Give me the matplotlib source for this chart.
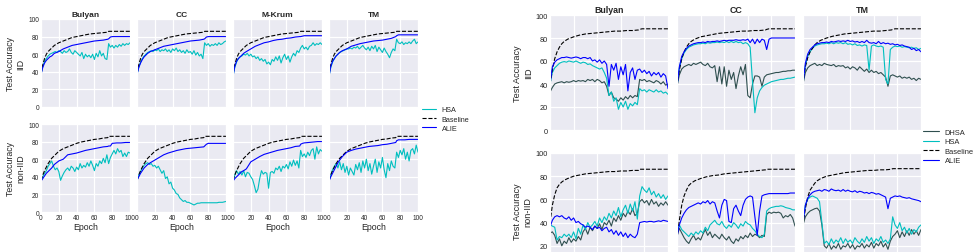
import matplotlib.pyplot as plt
import seaborn as sns

sns.set_style("darkgrid")
plt.rcParams["font.family"] = ["Liberation Sans", "DejaVu Sans"]

# epochs: fine grid for noisy curves, coarse grid for smooth ones
EP = list(range(0, 101, 2))
EPC = [0, 2, 4, 6, 8, 10, 12, 15, 20, 25, 30, 35, 40, 45, 50, 55, 60, 65, 70, 75, 76, 78, 80, 85, 90, 95, 100]

# ---------------- left figure: HSA vs ALIE ----------------
left_titles = ["Bulyan", "CC", "M-Krum", "TM"]

lb_iid = [38, 48, 55, 60, 63, 65, 67, 70, 73, 75, 77, 79, 80, 81, 82, 83, 83.5, 84, 84.5, 85, 86, 86, 86, 86, 86, 86, 86]
lb_non = [36, 42, 47, 51, 55, 58, 61, 64, 69, 72, 74, 76, 78, 79.5, 80.5, 81.5, 82.5, 83, 84, 84.5, 86, 86, 86, 86, 86, 86, 86]

la_bulyan_iid = [37, 45, 50, 53, 55, 57, 58, 61, 63, 66, 68, 70, 71, 72, 73, 74, 75, 75.5, 76, 77, 77.5, 79.5, 80, 80, 80, 80, 80]
la_cc_iid = [37, 45, 50, 54, 57, 59, 61, 63, 65, 67, 69, 70, 71, 72, 73, 74, 75, 75.5, 76, 77, 77.5, 79.5, 80, 80, 80, 80, 80]
la_mkrum_iid = [35, 46, 52, 55, 57, 59, 61, 63, 66, 69, 71, 73, 74, 75.5, 76.5, 77, 78, 78.5, 79.5, 80, 80, 80.5, 81, 81, 81, 81, 81]
la_tm_iid = [35, 46, 52, 55, 58, 60, 62, 64, 66, 69, 70.5, 72, 73, 74, 75, 75.5, 76, 77, 78, 80, 81, 82, 82, 82, 82, 82, 82]
la_bulyan_non = [35, 38, 41, 44, 46, 48, 50, 54, 58, 60, 65, 66, 67, 68.5, 70, 71, 72, 73, 74, 74.5, 75, 75, 78, 78.5, 78.5, 79, 79]
la_cc_non = [36, 40, 44, 47, 50, 52, 54, 56, 59, 62, 65, 67, 68.5, 70, 71, 72, 72.5, 73, 73.5, 74, 75, 77, 78, 78, 78, 78, 78]
la_mkrum_non = [35, 38, 40, 42, 44, 46, 47, 49, 57, 60, 63, 65.5, 67, 68.5, 70, 71, 72, 73, 74.5, 75, 77, 78, 78.5, 79, 79.5, 80, 80]
la_tm_non = [35, 40, 44, 48, 52, 56, 59, 63, 68, 70, 71.5, 72.5, 73.5, 74.5, 75, 75.5, 76.5, 77, 78, 79, 81, 82, 82, 82, 82.5, 82.5, 82.5]

lh_bulyan_iid = [37, 46, 52, 55, 58, 60, 61, 62, 63, 62,
                 64, 63, 61, 64, 62, 63, 66, 62, 60, 64,
                 62, 60, 58, 62, 55, 60, 57, 59, 56, 60,
                 54, 61, 57, 64, 58, 61, 55, 54, 72, 68,
                 70, 67, 70, 68, 71, 69, 72, 70, 72, 71,
                 73]
lh_cc_iid = [37, 45, 51, 55, 58, 60, 62, 63, 64, 63,
             65, 64, 66, 63, 65, 64, 66, 63, 65, 62,
             66, 64, 67, 63, 65, 62, 64, 61, 65, 62,
             63, 60, 64, 59, 62, 58, 60, 55, 73, 70,
             72, 69, 71, 70, 72, 70, 73, 71, 72, 74,
             75]
lh_mkrum_iid = [35, 45, 51, 55, 57, 58, 60, 59, 61, 58,
                60, 57, 58, 55, 57, 53, 55, 52, 54, 49,
                51, 48, 54, 52, 57, 53, 58, 50, 56, 60,
                54, 58, 51, 57, 61, 58, 64, 62, 67, 70,
                66, 68, 65, 69, 70, 73, 70, 72, 71, 73,
                71]
lh_tm_iid = [35, 45, 51, 55, 58, 60, 62, 63, 64, 65,
             66, 66, 67, 66, 68, 67, 69, 66, 68, 70,
             67, 65, 68, 64, 69, 66, 70, 63, 68, 65,
             62, 67, 63, 60, 56, 62, 66, 64, 77, 73,
             72, 74, 71, 73, 72, 74, 72, 75, 77, 72,
             74]
lh_bulyan_non = [35, 40, 44, 47, 52, 55, 58, 52, 48, 50,
                 46, 36, 41, 45, 48, 50, 47, 52, 50, 46,
                 51, 48, 55, 50, 53, 51, 56, 52, 58, 53,
                 47, 55, 52, 58, 55, 61, 56, 65, 55, 62,
                 66, 70, 66, 72, 68, 70, 63, 67, 63, 68,
                 67]
lh_cc_non = [36, 42, 46, 50, 53, 55, 56, 54, 55, 52,
             53, 50, 52, 48, 44, 47, 38, 40, 32, 34,
             27, 25, 21, 20, 16, 14, 12, 13, 11, 11,
             10, 9, 8, 9, 10, 10, 10.5, 10.5, 10.5, 10.5,
             10.5, 10.5, 10.5, 10.5, 10.5, 10.5, 11, 11, 11, 11.5,
             12]
lh_mkrum_non = [35, 42, 47, 43, 46, 42, 47, 40, 45, 44,
                40, 37, 30, 22, 26, 38, 47, 43, 45, 44,
                27, 45, 46, 44, 50, 48, 52, 46, 52, 50,
                54, 49, 57, 52, 59, 53, 58, 50, 70, 63,
                66, 62, 68, 64, 70, 72, 60, 74, 66, 71,
                69]
lh_tm_non = [35, 42, 48, 52, 55, 50, 57, 48, 55, 45,
             52, 42, 50, 46, 42, 54, 48, 56, 45, 58,
             50, 60, 47, 55, 43, 52, 60, 45, 57, 50,
             62, 48, 39, 55, 47, 58, 52, 50, 68, 62,
             70, 65, 72, 60, 68, 58, 70, 72, 66, 76,
             68]

# ---------------- right figure: DHSA / HSA vs ALIE ----------------
right_titles = ["Bulyan", "CC", "TM"]

rb_bulyan_iid = [40, 52, 62, 68, 72, 75, 77, 79, 81, 82.5, 83.5, 84, 84.5, 85, 85.5, 86, 86, 86.5, 86.5, 87, 87.5, 88, 88, 88, 88, 88, 88]
rb_cc_iid = [38, 52, 62, 68, 72, 75, 77, 79, 81, 82, 83, 84, 84.5, 85, 85.5, 86, 86, 86.5, 86.5, 87, 87.5, 88, 88, 88, 88, 88, 88]
rb_tm_iid = [40, 55, 63, 68, 71, 74, 76, 78, 80, 81.5, 82.5, 83.5, 84, 84.5, 85, 85.5, 86, 86, 86.5, 87, 87.5, 88, 88, 88, 88, 88, 88]
rb_bulyan_non = [40, 55, 64, 70, 73, 75, 76.5, 78, 80, 81, 82, 82.5, 83, 83.5, 84, 84, 84.5, 84.5, 85, 85, 86, 86, 86, 86, 86, 86, 86]
rb_cc_non = [27, 42, 55, 63, 68, 72, 74, 76, 78, 79.5, 80.5, 81, 82, 82.5, 83, 83.5, 84, 84.5, 85, 85.5, 86, 86, 86, 86, 86, 86, 86]
rb_tm_non = [38, 52, 62, 68, 71, 74, 76, 78, 80, 81, 82, 83, 83.5, 84, 84.5, 85, 85, 85.5, 85.5, 86, 86.5, 86.5, 86.5, 86.5, 86.5, 86.5, 86.5]

ra_bulyan_iid = [40, 55, 59, 61, 62, 63, 63, 63.5, 63, 62.5,
                 63, 63.5, 63, 62, 63, 63, 62, 63, 60, 61,
                 59, 61, 58, 60, 57, 38, 57, 52, 58, 44,
                 55, 48, 57, 34, 50, 54, 44, 52, 53, 50,
                 52, 49, 51, 47, 50, 48, 50, 46, 49, 47,
                 36]
rh_bulyan_iid = [40, 50, 54, 56, 58, 59, 59.5, 59, 60, 59.5,
                 59, 60, 59, 58, 59, 58.5, 57, 57.5, 56, 55,
                 54, 53, 54, 50, 45, 30, 33, 25, 28, 18,
                 24, 20, 25, 18, 23, 21, 24, 22, 36, 34,
                 35, 33, 35, 34, 33, 35, 33, 34, 32, 33,
                 31]
rd_bulyan_iid = [33, 37, 40, 41, 41.5, 42, 41, 42, 41.5, 42,
                 43, 42, 43, 42.5, 43, 42, 44, 43, 44, 42,
                 44, 43, 41, 42, 38, 30, 33, 28, 27, 25,
                 28, 26, 29, 27, 30, 28, 30, 29, 44, 43,
                 44, 42, 43, 42, 41, 43, 42, 40, 42, 39,
                 40]
ra_cc_iid = [38, 55, 64, 68, 71, 73, 74, 75, 75.5, 76,
             76, 76.5, 76, 77, 76.5, 77, 77, 77.5, 77, 77.5,
             78, 77.5, 78, 78, 78, 78.5, 78, 78, 78.5, 78,
             79, 76, 79, 75, 79, 76, 79, 78, 70, 79,
             80, 80, 80, 80, 80, 80, 80, 80, 80, 80,
             80]
rh_cc_iid = [38, 54, 62, 67, 70, 72, 73, 74, 74.5, 75,
             75, 75.5, 75, 76, 75.5, 76, 76, 76.5, 76, 76.5,
             76, 77, 76, 77, 76, 77, 76, 76.5, 75, 76,
             75, 72, 42, 15, 28, 34, 37, 39, 40, 41,
             42, 42.5, 43, 43.5, 44, 44, 44.5, 45, 45, 45.5,
             46]
rd_cc_iid = [38, 48, 53, 55, 56, 57, 56, 58, 57, 58,
             59, 57, 56, 58, 55, 54, 56, 42, 55, 40,
             55, 38, 52, 44, 50, 36, 47, 55, 48, 57,
             30, 28, 40, 47, 47, 46, 38, 46, 48, 48.5,
             49, 49.5, 50, 50, 50.5, 51, 51, 51.5, 51.5, 52,
             52]
ra_tm_iid = [40, 58, 66, 70, 72, 74, 75, 75.5, 76, 76,
             76.5, 76, 77, 76.5, 77, 77.5, 77, 77.5, 77, 78,
             77, 77.5, 76.5, 77, 76, 77, 76, 78, 76, 75.5,
             76, 75, 77, 75, 76, 75, 75.5, 74.5, 75, 74,
             74.5, 73.5, 74, 73, 72.5, 72, 70, 71, 69, 70,
             68]
rh_tm_iid = [40, 56, 64, 68, 71, 73, 74, 74.5, 75, 75,
             75.5, 75, 76, 75, 76, 75.5, 76, 75, 76, 74.5,
             75, 74, 75, 73.5, 74, 73, 74, 73.5, 52, 73,
             74, 73, 72.5, 73, 72, 44, 40, 70, 72, 73,
             72.5, 73, 72, 72.5, 72, 71.5, 72, 71, 71.5, 70,
             71]
rd_tm_iid = [40, 50, 54, 56, 57, 58, 56, 57, 56, 58,
             57, 56.5, 56, 57, 55, 56, 55.5, 56, 54, 55,
             53, 55, 54, 52, 55, 53, 51, 53, 50, 52,
             50, 51, 49, 50, 48, 46, 38, 47, 48, 47,
             46, 47, 45, 46, 45, 46, 44, 45, 43, 45,
             44]
ra_bulyan_non = [36, 42, 45, 46, 45, 46, 44, 43, 45, 42,
                 44, 40, 41, 39, 38, 36, 37, 36, 34, 37,
                 35, 36, 33, 35, 36, 32, 34, 30, 33, 29,
                 32, 28, 31, 27, 30, 28, 27, 30, 40, 40.5,
                 41, 40.5, 41, 41, 40.5, 41, 41.5, 41, 42, 41.5,
                 41]
rh_bulyan_non = [38, 37, 36, 25, 28, 27, 30, 28, 30, 27,
                 32, 26, 35, 30, 38, 34, 40, 36, 38, 41,
                 37, 44, 40, 45, 42, 48, 44, 50, 46, 53,
                 45, 51, 55, 48, 56, 50, 58, 43, 63, 71,
                 68, 66, 70, 64, 67, 62, 65, 61, 64, 60,
                 63]
rd_bulyan_non = [31, 32, 29, 22, 26, 20, 24, 22, 27, 23,
                 26, 24, 28, 25, 32, 35, 30, 36, 33, 37,
                 35, 39, 34, 40, 38, 42, 37, 44, 41, 46,
                 42, 48, 45, 50, 47, 52, 46, 48, 58, 60,
                 57, 59, 55, 60, 56, 58, 54, 57, 55, 58,
                 55]
ra_cc_non = [28, 38, 44, 48, 51, 53, 54, 55, 56, 57,
             56, 58, 57, 59, 56, 58, 57, 50, 44, 55,
             60, 59, 41, 40, 52, 55, 50, 46, 55, 60,
             62, 63, 62, 45, 29, 50, 63, 64, 64.5, 65,
             65, 65, 65, 65, 65, 65, 65, 65, 65.5, 65.5,
             65.5]
rh_cc_non = [33, 38, 34, 32, 30, 28, 31, 29, 32, 30,
             33, 31, 36, 33, 38, 40, 42, 39, 38, 41,
             37, 35, 38, 36, 40, 38, 35, 39, 37, 41,
             39, 38, 35, 33, 30, 28, 27, 30, 50, 52,
             53, 53.5, 54, 54, 54.5, 54, 53, 52.5, 52, 51,
             51]
rd_cc_non = [28, 35, 31, 27, 24, 22, 26, 29, 25, 27,
             25, 30, 34, 29, 32, 27, 30, 28, 26, 30,
             27, 25, 28, 24, 22, 26, 24, 28, 26, 29,
             27, 31, 28, 30, 29, 27, 29, 28, 47, 49,
             48, 49, 48.5, 49, 48, 44, 46, 45, 47, 44,
             37]
ra_tm_non = [40, 55, 61, 64, 66, 67, 67.5, 68, 67, 68.5,
             68, 67, 69, 68, 67.5, 68, 67, 68.5, 67, 68,
             67, 66.5, 67.5, 66, 67, 66.5, 65.5, 66, 65, 66,
             65.5, 64.5, 65, 64, 63, 62, 52, 61, 62, 63,
             62.5, 63, 62, 61.5, 61, 61.5, 60.5, 60, 59.5, 59,
             58]
rh_tm_non = [40, 55, 60, 62, 63, 62, 61, 58, 40, 22,
             24, 21, 26, 22, 25, 23, 27, 22, 26, 23,
             25, 22, 27, 24, 22, 26, 23, 28, 24, 27,
             22, 26, 24, 28, 23, 25, 22, 26, 45, 38,
             35, 40, 33, 36, 31, 35, 30, 34, 32, 36,
             38]
rd_tm_non = [38, 45, 48, 50, 51, 52, 52.5, 50, 38, 20,
             18, 22, 17, 20, 18, 22, 17, 20, 19, 22,
             18, 21, 17, 20, 19, 22, 18, 21, 19, 23,
             18, 22, 20, 24, 19, 22, 17, 24, 28, 30,
             33, 27, 32, 28, 33, 29, 34, 30, 33, 29,
             34]

row_labels = ["Test Accuracy\nIID", "Test Accuracy\nnon-IID"]

left_base = [lb_iid, lb_non]
left_alie = [[la_bulyan_iid, la_cc_iid, la_mkrum_iid, la_tm_iid],
             [la_bulyan_non, la_cc_non, la_mkrum_non, la_tm_non]]
left_hsa = [[lh_bulyan_iid, lh_cc_iid, lh_mkrum_iid, lh_tm_iid],
            [lh_bulyan_non, lh_cc_non, lh_mkrum_non, lh_tm_non]]

right_base = [[rb_bulyan_iid, rb_cc_iid, rb_tm_iid], [rb_bulyan_non, rb_cc_non, rb_tm_non]]
right_alie = [[ra_bulyan_iid, ra_cc_iid, ra_tm_iid], [ra_bulyan_non, ra_cc_non, ra_tm_non]]
right_hsa = [[rh_bulyan_iid, rh_cc_iid, rh_tm_iid], [rh_bulyan_non, rh_cc_non, rh_tm_non]]
right_dhsa = [[rd_bulyan_iid, rd_cc_iid, rd_tm_iid], [rd_bulyan_non, rd_cc_non, rd_tm_non]]

W, H = 980, 253
DHSA_C = "#2F4F4F"
LW = 0.8


def rect(x, y, w, h):
    # pixel box (top-left origin) -> figure fraction
    return [x / W, 1 - (y + h) / H, w / W, h / H]


def style_axis(ax, size):
    ax.set_xlim(0, 100)
    ax.set_ylim(0, 100)
    ax.set_xticks(range(0, 101, 20))
    ax.set_yticks(range(0, 101, 20))
    ax.tick_params(labelsize=size, pad=1.5, length=0)
    ax.grid(True, color="white", lw=0.9)


fig = plt.figure(figsize=(W / 100, H / 100), dpi=100)

# left block
LX = [41, 137, 233, 329]
LY = [20, 125]
for r in range(2):
    for c in range(4):
        ax = fig.add_axes(rect(LX[c], LY[r], 89, 88))
        ax.plot(EP, left_hsa[r][c], color="c", lw=LW, label="HSA")
        ax.plot(EPC, left_base[r], "k--", lw=LW, label="Baseline")
        ax.plot(EPC, left_alie[r][c], color="b", lw=LW, label="ALIE")
        style_axis(ax, 4.7)
        if r == 0:
            ax.set_title(left_titles[c], fontsize=6, fontweight="bold", pad=2.5)
            ax.tick_params(labelbottom=False)
        else:
            ax.set_xlabel("Epoch", fontsize=6.3, labelpad=1)
        if c == 0:
            ax.set_ylabel(row_labels[r], fontsize=6.3, labelpad=2)
        else:
            ax.tick_params(labelleft=False)
        if r == 0 and c == 3:
            lh, ll = ax.get_legend_handles_labels()

fig.legend(lh, ll, loc="center left", bbox_to_anchor=(422 / W, 1 - 120 / H),
           frameon=False, fontsize=5.2, handlelength=1.9, handletextpad=0.8,
           labelspacing=0.3, borderpad=0, borderaxespad=0)

# right block
RX = [550, 677, 803]
RY = [16, 154]
RH = [115, 116]
for r in range(2):
    for c in range(3):
        ax = fig.add_axes(rect(RX[c], RY[r], 118, RH[r]))
        ax.plot(EP, right_dhsa[r][c], color=DHSA_C, lw=LW, label="DHSA")
        ax.plot(EP, right_hsa[r][c], color="c", lw=LW, label="HSA")
        ax.plot(EPC, right_base[r][c], "k--", lw=LW, label="Baseline")
        ax.plot(EP, right_alie[r][c], color="b", lw=LW, label="ALIE")
        style_axis(ax, 5.3)
        ax.tick_params(labelbottom=False)
        if r == 0:
            ax.set_title(right_titles[c], fontsize=6.4, fontweight="bold", pad=2.5)
        if c == 0:
            ax.set_ylabel(row_labels[r], fontsize=6.6, labelpad=2)
        else:
            ax.tick_params(labelleft=False)
        if r == 0 and c == 2:
            rh, rl = ax.get_legend_handles_labels()

fig.legend(rh, rl, loc="center left", bbox_to_anchor=(923 / W, 1 - 147.5 / H),
           frameon=False, fontsize=5.4, handlelength=2.1, handletextpad=0.8,
           labelspacing=0.3, borderpad=0, borderaxespad=0)

fig.savefig("out.png", dpi=100)
